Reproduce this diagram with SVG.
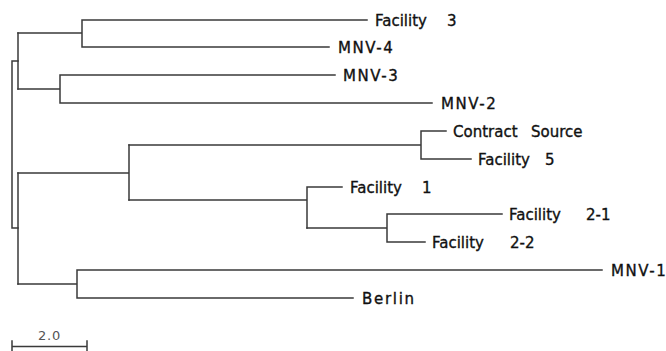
<svg xmlns="http://www.w3.org/2000/svg" width="666" height="351" viewBox="0 0 666 351">
<style>
.br{fill:none;stroke:#3a3a3a;stroke-width:1.5;stroke-linecap:square}
.lb{font-family:"DejaVu Sans",Verdana,sans-serif;font-size:15px;fill:#111;stroke:#111;stroke-width:0.35px}
.sp{letter-spacing:1.6px}
.sc{font-family:"DejaVu Sans",Verdana,sans-serif;font-size:13px;fill:#555;text-anchor:middle;letter-spacing:0.8px}
</style>
<rect width="666" height="351" fill="#fff"/>
<g id="connectors" class="br">
<path d="M18 61H12V228H18"/>
<path d="M18 33V89"/>
<path d="M18 33H82M82 20V47M82 20H367M82 47H329"/>
<path d="M18 89H60M60 75V103M60 75H335M60 103H432"/>
<path d="M18 173V284"/>
<path d="M18 173H129M129 145V200"/>
<path d="M129 145H421M421 131V159M421 131H446M421 159H471"/>
<path d="M129 200H307M307 187V228M307 187H342"/>
<path d="M307 228H387M387 214V242M387 214H502M387 242H425"/>
<path d="M18 284H77M77 270V298M77 270H602M77 298H353"/>
</g>
<g id="facility3"><text class="lb" x="375" y="26">Facility <tspan x="447">3</tspan></text></g>
<g id="mnv4"><text class="lb sp" x="338" y="53">MNV-4</text></g>
<g id="mnv3"><text class="lb sp" x="343" y="81">MNV-3</text></g>
<g id="mnv2"><text class="lb sp" x="441" y="109">MNV-2</text></g>
<g id="contract-source"><text class="lb" x="453" y="137">Contract <tspan x="531">Source</tspan></text></g>
<g id="facility5"><text class="lb" x="478" y="165">Facility <tspan x="545">5</tspan></text></g>
<g id="facility1"><text class="lb" x="350" y="193">Facility <tspan x="422">1</tspan></text></g>
<g id="facility2-1"><text class="lb" x="509" y="220">Facility <tspan x="586">2-1</tspan></text></g>
<g id="facility2-2"><text class="lb" x="432" y="248">Facility <tspan x="510">2-2</tspan></text></g>
<g id="mnv1"><text class="lb sp" x="611" y="276">MNV-1</text></g>
<g id="berlin"><text class="lb" style="letter-spacing:1.7px" x="362" y="304">Berlin</text></g>
<g id="scale-bar">
<path class="br" d="M12 346.5H87M12 341V351M87 341V351"/>
<text class="sc" x="49.5" y="340">2.0</text>
</g>
</svg>
